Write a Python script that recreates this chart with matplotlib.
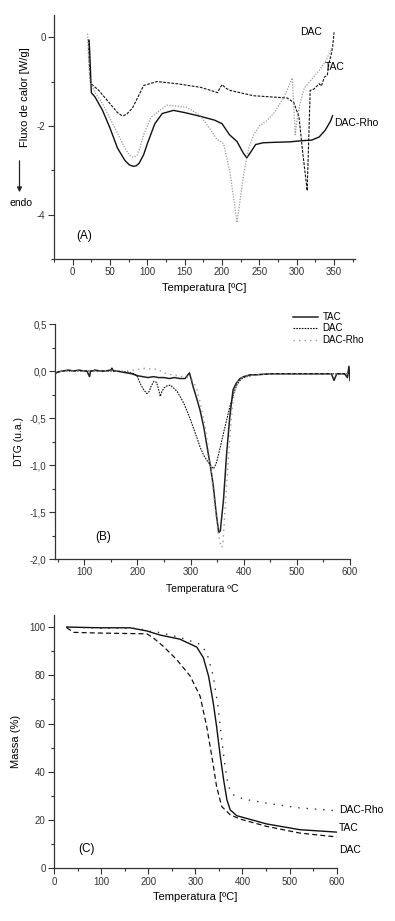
import numpy as np
import matplotlib
matplotlib.use("Agg")
import matplotlib.pyplot as plt
from matplotlib.ticker import MultipleLocator, FuncFormatter

plt.rcParams['font.family'] = ['Liberation Sans', 'DejaVu Sans']

# ---- (A) DSC ----
a_rho_t = [22, 23, 25, 30, 40, 50, 60, 70, 76, 81, 85, 89, 95, 100, 110, 120, 135, 150, 170, 190,
           200, 210, 220, 228, 233, 238, 245, 255, 270, 290, 310, 320, 330, 338, 345, 348]
a_rho_v = [-0.07, -0.4, -1.25, -1.35, -1.65, -2.05, -2.5, -2.78, -2.88, -2.91, -2.9, -2.84,
           -2.65, -2.4, -1.95, -1.72, -1.65, -1.7, -1.78, -1.87, -1.95, -2.2, -2.35, -2.6, -2.72,
           -2.6, -2.42, -2.38, -2.37, -2.36, -2.33, -2.32, -2.25, -2.1, -1.9, -1.77]
a_dac_t = [21, 22, 24, 35, 50, 60, 65, 68, 72, 80, 95, 113, 140, 171, 185, 194, 197, 200, 205,
           211, 242, 287, 296, 303, 308, 314, 318, 323, 330, 333, 337, 341, 343, 346, 348, 350]
a_dac_v = [-0.05, -0.5, -1.04, -1.2, -1.5, -1.7, -1.76, -1.77, -1.74, -1.6, -1.09, -1.0, -1.05,
           -1.13, -1.2, -1.25, -1.15, -1.07, -1.15, -1.2, -1.32, -1.37, -1.47, -1.8, -2.6, -3.46,
           -1.2, -1.17, -1.05, -1.1, -0.9, -0.85, -0.6, -0.4, -0.23, 0.11]
a_tac_t = [20, 21, 23, 30, 40, 55, 70, 76, 81, 86, 90, 95, 105, 126, 153, 171, 184, 193, 202,
           211, 220, 229, 236, 243, 250, 260, 270, 283, 294, 298, 300, 305, 310, 320, 330, 340,
           348]
a_tac_v = [0.08, -0.4, -0.98, -1.25, -1.5, -2.0, -2.5, -2.66, -2.71, -2.66, -2.5, -2.2, -1.8,
           -1.53, -1.58, -1.77, -2.07, -2.3, -2.4, -3.08, -4.18, -3.08, -2.48, -2.18, -2.0, -1.88,
           -1.7, -1.35, -0.92, -2.2, -1.9, -1.45, -1.15, -0.95, -0.75, -0.5, -0.2]

# ---- (B) DTG ----
b_tac_t = [45, 50, 60, 70, 80, 90, 100, 105, 110, 112, 115, 120, 130, 140, 150, 152, 155, 160,
           170, 180, 190, 200, 210, 220, 230, 240, 250, 260, 270, 280, 290, 295, 298, 305, 312,
           318, 325, 330, 337, 343, 348, 353, 356, 362, 368, 374, 380, 386, 393, 400, 412, 425,
           450, 475, 500, 525, 550, 565, 570, 575, 590, 595, 598, 600]
b_tac_v = [-0.03, -0.01, 0.0, 0.01, 0.0, 0.01, 0.0, 0.0, -0.06, 0.0, 0.0, 0.01, 0.0, 0.0, 0.01,
           0.03, 0.0, 0.0, -0.01, -0.02, -0.03, -0.05, -0.06, -0.07, -0.06, -0.07, -0.07, -0.08,
           -0.07, -0.08, -0.08, -0.04, -0.02, -0.17, -0.3, -0.42, -0.6, -0.77, -1.0, -1.23, -1.5,
           -1.72, -1.7, -1.37, -0.87, -0.48, -0.2, -0.13, -0.08, -0.06, -0.04, -0.04, -0.03,
           -0.03, -0.03, -0.03, -0.03, -0.03, -0.1, -0.03, -0.03, -0.07, 0.05, -0.1]
b_dac_t = [45, 60, 80, 100, 120, 140, 160, 180, 195, 200, 205, 212, 218, 222, 226, 231, 236,
           240, 243, 246, 250, 255, 262, 268, 275, 280, 287, 293, 300, 305, 312, 318, 325, 331,
           337, 343, 347, 350, 356, 362, 368, 374, 381, 387, 393, 400, 420, 450, 500, 550, 600]
b_dac_v = [-0.02, 0.0, 0.0, 0.0, 0.0, 0.0, 0.0, -0.01, -0.03, -0.06, -0.13, -0.2, -0.24, -0.22,
           -0.16, -0.11, -0.12, -0.2, -0.27, -0.22, -0.18, -0.16, -0.15, -0.18, -0.22, -0.27,
           -0.34, -0.42, -0.52, -0.6, -0.71, -0.81, -0.9, -0.95, -1.0, -1.04, -1.0, -0.95, -0.81,
           -0.66, -0.52, -0.38, -0.24, -0.15, -0.1, -0.07, -0.04, -0.03, -0.03, -0.03, -0.03]
b_rho_t = [45, 60, 80, 100, 120, 140, 160, 180, 195, 205, 215, 225, 235, 245, 255, 265, 275,
           285, 295, 302, 307, 312, 318, 324, 329, 334, 339, 343, 347, 351, 355, 358, 361, 365,
           368, 371, 375, 380, 385, 390, 400, 420, 450, 500, 550, 600]
b_rho_v = [-0.02, 0.0, 0.0, 0.0, 0.0, 0.0, 0.0, 0.0, 0.01, 0.02, 0.03, 0.02, 0.02, 0.0, -0.03,
           -0.04, -0.05, -0.06, -0.07, -0.09, -0.13, -0.2, -0.33, -0.49, -0.65, -0.85, -1.08,
           -1.3, -1.5, -1.68, -1.82, -1.88, -1.85, -1.45, -1.2, -0.95, -0.62, -0.31, -0.18, -0.1,
           -0.06, -0.04, -0.03, -0.03, -0.03, -0.03]

# ---- (C) TGA ----
c_tac_t = [27, 100, 161, 197, 225, 267, 303, 317, 328, 338, 345, 352, 360, 367, 374, 388, 451,
           522, 600]
c_tac_m = [100, 99.7, 99.7, 98.4, 96.7, 95.0, 91.7, 87.3, 79.7, 68.6, 58.9, 47.8, 36.7, 28.4,
           24.2, 21.8, 18.4, 16.0, 15.0]
c_dac_t = [27, 42, 100, 197, 211, 232, 260, 289, 310, 324, 335, 345, 356, 374, 395, 451, 522,
           600]
c_dac_m = [99.7, 97.8, 97.5, 97.2, 95.5, 92.0, 86.6, 79.7, 71.4, 58.9, 46.4, 34.0, 25.6, 22.2,
           20.4, 17.4, 14.6, 13.0]
c_rho_t = [27, 100, 180, 197, 225, 267, 310, 324, 338, 348, 356, 363, 370, 380, 402, 451, 522,
           593]
c_rho_m = [100, 99.5, 99.5, 98.4, 97.7, 95.7, 92.9, 89.5, 79.7, 67.2, 53.3, 42.2, 34.0, 30.5,
           28.7, 27.0, 25.0, 24.0]

W, H = 395, 921
fig = plt.figure(figsize=(W / 100, H / 100), dpi=100)


def box(l, t, r, b):
    return [l / W, 1 - b / H, (r - l) / W, (b - t) / H]


def style(ax):
    for s in ['top', 'right']:
        ax.spines[s].set_visible(False)
    for s in ['left', 'bottom']:
        ax.spines[s].set_color('#333333')
        ax.spines[s].set_linewidth(0.9)
    ax.tick_params(which='major', direction='out', length=4, width=0.8, labelsize=7,
                   colors='#333333', labelcolor='#333333', pad=2)
    ax.tick_params(which='minor', direction='out', length=2.5, width=0.8, colors='#333333')


comma = FuncFormatter(lambda v, p: ('%.1f' % v).replace('.', ','))
intfmt = FuncFormatter(lambda v, p: '%d' % round(v))

# (A)
axA = fig.add_axes(box(54, 15, 355, 259))
axA.plot(a_rho_t, a_rho_v, color='#111111', lw=1.0)
axA.plot(a_dac_t, a_dac_v, color='#111111', lw=0.8, ls=(0, (2.5, 1.2)))
axA.plot(a_tac_t, a_tac_v, color='#9a9a9a', lw=0.9, ls=(0, (1, 1.2)))
axA.set_xlim(-25, 378)
axA.set_ylim(-5, 0.5)
axA.xaxis.set_major_locator(MultipleLocator(50))
axA.xaxis.set_minor_locator(MultipleLocator(25))
axA.yaxis.set_major_locator(MultipleLocator(2))
axA.yaxis.set_minor_locator(MultipleLocator(1))
axA.yaxis.set_major_formatter(intfmt)
style(axA)
axA.set_xlabel('Temperatura [ºC]', fontsize=8, labelpad=4)
axA.text(304, 0.05, 'DAC', fontsize=7.5)
axA.text(337, -0.75, 'TAC', fontsize=7.5)
axA.text(350, -2.0, 'DAC-Rho', fontsize=7.5)
axA.text(5, -4.55, '(A)', fontsize=8.5)
fig.text(25 / W, 1 - 97 / H, 'Fluxo de calor [W/g]', fontsize=8, rotation=90,
         ha='center', va='center')
fig.text(21 / W, 1 - 203 / H, 'endo', fontsize=7.5, ha='center', va='center')
fig.patches.append(matplotlib.patches.FancyArrowPatch(
    (19.5 / W, 1 - 158 / H), (19.5 / W, 1 - 195 / H), transform=fig.transFigure,
    arrowstyle='-|>', mutation_scale=7, lw=0.9, color='#222222'))

# (B)
axB = fig.add_axes(box(55, 324, 350, 559))
axB.plot(b_tac_t, b_tac_v, color='#222222', lw=1.1, label='TAC')
axB.plot(b_dac_t, b_dac_v, color='#111111', lw=0.8, ls=(0, (1.5, 1)), label='DAC')
axB.plot(b_rho_t, b_rho_v, color='#9a9a9a', lw=1.0, ls=(0, (1, 3)), label='DAC-Rho')
axB.set_xlim(45, 600)
axB.set_ylim(-2.0, 0.5)
axB.xaxis.set_major_locator(MultipleLocator(100))
axB.xaxis.set_minor_locator(MultipleLocator(50))
axB.yaxis.set_major_locator(MultipleLocator(0.5))
axB.yaxis.set_minor_locator(MultipleLocator(0.25))
axB.yaxis.set_major_formatter(comma)
style(axB)
axB.set_xlabel('Temperatura ºC', fontsize=7.5, labelpad=5)
axB.set_ylabel('DTG (u.a.)', fontsize=7.5, labelpad=4)
axB.text(120, -1.8, '(B)', fontsize=8.5)
leg = axB.legend(loc='upper right', bbox_to_anchor=(1.07, 1.08), fontsize=7, frameon=False,
                 handlelength=2.6, handletextpad=0.4, labelspacing=0.15, borderpad=0.2)

# (C)
axC = fig.add_axes(box(54, 615, 336.7, 868.3))
axC.plot(c_tac_t, c_tac_m, color='#111111', lw=1.0)
axC.plot(c_dac_t, c_dac_m, color='#111111', lw=0.9, ls=(0, (4, 2.5)))
axC.plot(c_rho_t, c_rho_m, color='#333333', lw=1.0, ls=(0, (1, 5)))
axC.set_xlim(0, 600)
axC.set_ylim(0, 105)
axC.xaxis.set_major_locator(MultipleLocator(100))
axC.xaxis.set_minor_locator(MultipleLocator(50))
axC.yaxis.set_major_locator(MultipleLocator(20))
axC.yaxis.set_minor_locator(MultipleLocator(10))
style(axC)
axC.set_xlabel('Temperatura [ºC]', fontsize=8, labelpad=4)
axC.set_ylabel('Massa (%)', fontsize=8, labelpad=6)
axC.text(605, 24, 'DAC-Rho', fontsize=7.5, va='center', clip_on=False)
axC.text(605, 16.5, 'TAC', fontsize=7.5, va='center', clip_on=False)
axC.text(605, 7.5, 'DAC', fontsize=7.5, va='center', clip_on=False)
axC.text(52, 8, '(C)', fontsize=8.5, va='center')

fig.savefig('out.png', dpi=100)
